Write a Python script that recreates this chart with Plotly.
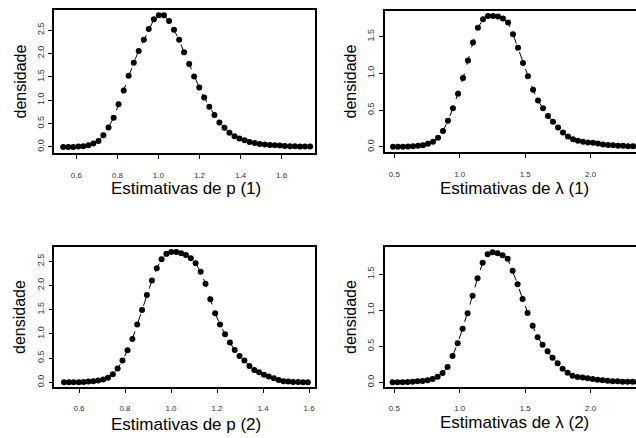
import plotly.graph_objects as go

# ---------------- data ----------------
x_p1 = [0.536, 0.561, 0.585, 0.610, 0.634, 0.659, 0.683, 0.708, 0.732, 0.757,
        0.782, 0.806, 0.831, 0.855, 0.880, 0.904, 0.929, 0.953, 0.978, 1.002,
        1.027, 1.052, 1.076, 1.101, 1.125, 1.150, 1.174, 1.199, 1.223, 1.248,
        1.273, 1.297, 1.322, 1.346, 1.371, 1.395, 1.420, 1.444, 1.469, 1.493,
        1.518, 1.543, 1.567, 1.592, 1.616, 1.641, 1.665, 1.690, 1.714, 1.739]
y_p1 = [0.000, 0.000, 0.000, 0.007, 0.014, 0.036, 0.072, 0.129, 0.251, 0.417,
        0.625, 0.912, 1.207, 1.523, 1.803, 2.055, 2.292, 2.522, 2.730, 2.816,
        2.816, 2.694, 2.507, 2.292, 2.026, 1.774, 1.509, 1.272, 1.056, 0.862,
        0.682, 0.524, 0.409, 0.302, 0.230, 0.180, 0.144, 0.108, 0.086, 0.065,
        0.050, 0.043, 0.036, 0.029, 0.022, 0.014, 0.014, 0.007, 0.007, 0.007]

x_l1 = [0.490, 0.528, 0.566, 0.605, 0.643, 0.681, 0.719, 0.757, 0.796, 0.834,
        0.872, 0.910, 0.948, 0.987, 1.025, 1.063, 1.101, 1.139, 1.178, 1.216,
        1.254, 1.292, 1.330, 1.369, 1.407, 1.445, 1.483, 1.521, 1.560, 1.598,
        1.636, 1.674, 1.712, 1.751, 1.789, 1.827, 1.865, 1.903, 1.942, 1.980,
        2.018, 2.056, 2.094, 2.133, 2.171, 2.209, 2.247, 2.285, 2.324, 2.362]
y_l1 = [0.000, 0.000, 0.000, 0.005, 0.009, 0.014, 0.023, 0.041, 0.069, 0.123,
        0.215, 0.357, 0.526, 0.722, 0.937, 1.175, 1.422, 1.623, 1.738, 1.783,
        1.783, 1.774, 1.747, 1.692, 1.532, 1.349, 1.143, 0.960, 0.777, 0.631,
        0.526, 0.421, 0.343, 0.265, 0.197, 0.142, 0.105, 0.082, 0.069, 0.059,
        0.055, 0.046, 0.032, 0.027, 0.023, 0.014, 0.014, 0.009, 0.009, 0.005]

x_p2 = [0.535, 0.556, 0.577, 0.599, 0.620, 0.641, 0.662, 0.683, 0.705, 0.726,
        0.747, 0.768, 0.789, 0.811, 0.832, 0.853, 0.874, 0.895, 0.917, 0.938,
        0.959, 0.980, 1.001, 1.023, 1.044, 1.065, 1.086, 1.107, 1.129, 1.150,
        1.171, 1.192, 1.213, 1.235, 1.256, 1.277, 1.298, 1.319, 1.341, 1.362,
        1.383, 1.404, 1.425, 1.447, 1.468, 1.489, 1.510, 1.531, 1.553, 1.574,
        1.595]
y_p2 = [0.000, 0.000, 0.000, 0.000, 0.007, 0.014, 0.021, 0.034, 0.055, 0.090,
        0.165, 0.282, 0.448, 0.661, 0.895, 1.191, 1.494, 1.804, 2.101, 2.355,
        2.541, 2.652, 2.693, 2.693, 2.665, 2.631, 2.562, 2.459, 2.280, 2.032,
        1.715, 1.426, 1.190, 0.992, 0.820, 0.668, 0.544, 0.448, 0.337, 0.255,
        0.207, 0.152, 0.117, 0.083, 0.048, 0.021, 0.014, 0.007, 0.007, 0.000,
        0.000]

x_l2 = [0.487, 0.525, 0.563, 0.602, 0.640, 0.678, 0.716, 0.754, 0.793, 0.831,
        0.869, 0.907, 0.945, 0.984, 1.022, 1.060, 1.098, 1.136, 1.175, 1.213,
        1.251, 1.289, 1.327, 1.366, 1.404, 1.442, 1.480, 1.518, 1.557, 1.595,
        1.633, 1.671, 1.709, 1.748, 1.786, 1.824, 1.862, 1.900, 1.939, 1.977,
        2.015, 2.053, 2.091, 2.130, 2.168, 2.206, 2.244, 2.282, 2.321, 2.359]
y_l2 = [0.000, 0.000, 0.000, 0.005, 0.009, 0.014, 0.018, 0.028, 0.046, 0.078,
        0.129, 0.212, 0.365, 0.540, 0.743, 0.955, 1.200, 1.440, 1.657, 1.772,
        1.800, 1.786, 1.758, 1.712, 1.546, 1.357, 1.154, 0.960, 0.785, 0.623,
        0.521, 0.429, 0.341, 0.263, 0.189, 0.134, 0.092, 0.074, 0.065, 0.055,
        0.046, 0.037, 0.028, 0.023, 0.014, 0.014, 0.009, 0.009, 0.009, 0.005]

x_titles = ["Estimativas de p (1)", "Estimativas de \u03bb (1)",
            "Estimativas de p (2)", "Estimativas de \u03bb (2)"]
y_title = "densidade"

ticks_p = [0.6, 0.8, 1.0, 1.2, 1.4, 1.6]
ticks_l = [0.5, 1.0, 1.5, 2.0]
yticks_p = [0.0, 0.5, 1.0, 1.5, 2.0, 2.5]
yticks_l = [0.0, 0.5, 1.0, 1.5]

# ---------------- layout geometry ----------------
W, H = 636, 438
FONT = "Liberation Sans, Arial, sans-serif"

def px_x(v):
    return v / W

def px_y(v):
    return 1 - v / H

panels = [
    dict(x=x_p1, y=y_p1, xd=(54, 315), yd=(10, 153), xr=(0.4914, 1.7627), yr=(-0.13, 2.93),
         xt=ticks_p, yt=yticks_p, mirror=True, tx=186, ty=189, yx=20, so=10),
    dict(x=x_l1, y=y_l1, xd=(384.7, 636), yd=(11, 152), xr=(0.4267, 2.3465), yr=(-0.07, 1.85),
         xt=ticks_l, yt=yticks_l, mirror=False, tx=514, ty=188, yx=350, so=10),
    dict(x=x_p2, y=y_p2, xd=(54.3, 315), yd=(246.7, 387.3), xr=(0.4926, 1.626), yr=(-0.105, 2.80),
         xt=ticks_p, yt=yticks_p, mirror=True, tx=186, ty=424, yx=19, so=8),
    dict(x=x_l2, y=y_l2, xd=(384.7, 636), yd=(246.7, 387.3), xr=(0.4267, 2.3465), yr=(-0.069, 1.878),
         xt=ticks_l, yt=yticks_l, mirror=False, tx=514, ty=422, yx=350, so=8),
]

fig = go.Figure()
layout = dict(
    width=W, height=H,
    margin=dict(l=0, r=0, t=0, b=0),
    paper_bgcolor="white", plot_bgcolor="white",
    showlegend=False,
    font=dict(family=FONT, color="black"),
    annotations=[],
)

for i, p in enumerate(panels, start=1):
    xa = "x" if i == 1 else f"x{i}"
    ya = "y" if i == 1 else f"y{i}"
    fig.add_trace(go.Scatter(
        x=p["x"], y=p["y"], xaxis=xa, yaxis=ya, mode="lines+markers",
        line=dict(color="black", width=1, dash="dash"),
        marker=dict(color="black", size=6, symbol="circle"),
        cliponaxis=True,
    ))
    xkey = "xaxis" if i == 1 else f"xaxis{i}"
    ykey = "yaxis" if i == 1 else f"yaxis{i}"
    layout[xkey] = dict(
        domain=[px_x(p["xd"][0]), px_x(p["xd"][1])], anchor=ya,
        range=list(p["xr"]), tickvals=p["xt"], tickformat=".1f",
        showgrid=False, zeroline=False,
        showline=True, linecolor="black", linewidth=1.5, mirror=True,
        ticks="outside", ticklen=4, tickwidth=1, tickcolor="black",
        tickfont=dict(size=8, color="#333333", family=FONT),
        ticklabelstandoff=p["so"],
    )
    layout[ykey] = dict(
        domain=[px_y(p["yd"][1]), px_y(p["yd"][0])], anchor=xa,
        range=list(p["yr"]), tickvals=p["yt"], tickformat=".1f",
        showgrid=False, zeroline=False,
        showline=True, linecolor="black", linewidth=1.5, mirror=p["mirror"],
        ticks="outside", ticklen=4, tickwidth=1, tickcolor="black",
        tickfont=dict(size=9, color="#333333", family=FONT),
        tickangle=-90, ticklabelstandoff=1,
    )
    layout["annotations"].append(dict(
        text=x_titles[i - 1], xref="paper", yref="paper",
        x=px_x(p["tx"]), y=px_y(p["ty"]), xanchor="center", yanchor="middle",
        showarrow=False, font=dict(size=17, family=FONT, color="black"),
    ))
    layout["annotations"].append(dict(
        text=y_title, xref="paper", yref="paper", textangle=-90,
        x=px_x(p["yx"]), y=px_y((p["yd"][0] + p["yd"][1]) / 2),
        xanchor="center", yanchor="middle",
        showarrow=False, font=dict(size=16, family=FONT, color="black"),
    ))

fig.update_layout(**layout)
fig.write_html("out.html")
